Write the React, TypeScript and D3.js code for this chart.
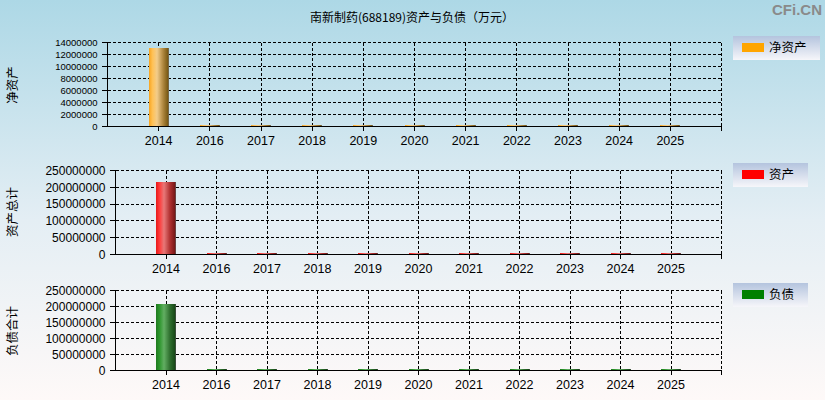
import React from "react";
import * as d3 from "d3";

const years = ["2014", "2016", "2017", "2018", "2019", "2020", "2021", "2022", "2023", "2024", "2025"];
const netAssets = [13100000, 200000, 200000, 200000, 200000, 200000, 200000, 200000, 200000, 200000, 200000];
const totalAssets = [217000000, 3500000, 3500000, 3500000, 3500000, 3500000, 3500000, 3500000, 3500000, 3500000, 3500000];
const liabilities = [207000000, 6000000, 6000000, 6000000, 6000000, 6000000, 6000000, 6000000, 6000000, 6000000, 6000000];
const netTicks = [0, 2000000, 4000000, 6000000, 8000000, 10000000, 12000000, 14000000];
const bigTicks = [0, 50000000, 100000000, 150000000, 200000000, 250000000];

const title = "南新制药(688189)资产与负债（万元）";

type Panel = {
  key: string;
  values: number[];
  ticks: number[];
  max: number;
  left: number;
  right: number;
  top: number;
  bottom: number;
  yFont: number;
  ylabel: string;
  ylabelY: number;
  legend: string;
  legendColor: string;
  legendTop: number;
  legendW: number;
  grad: string[];
};

const panels: Panel[] = [
  {
    key: "p1", values: netAssets, ticks: netTicks, max: 14000000,
    left: 107.5, right: 721.5, top: 42.5, bottom: 126.5, yFont: 9.5,
    ylabel: "净资产", ylabelY: 85, legend: "净资产", legendColor: "#FFA500",
    legendTop: 36, legendW: 87,
    grad: ["#F7A420", "#FFC257", "#F2CC8A", "#B08840", "#7A5A14", "#707070"],
  },
  {
    key: "p2", values: totalAssets, ticks: bigTicks, max: 250000000,
    left: 115.5, right: 721.5, top: 170.5, bottom: 254.5, yFont: 12,
    ylabel: "资产总计", ylabelY: 212, legend: "资产", legendColor: "#FF0000",
    legendTop: 163, legendW: 75,
    grad: ["#E81818", "#FF3C3C", "#E87878", "#B03030", "#781818", "#606060"],
  },
  {
    key: "p3", values: liabilities, ticks: bigTicks, max: 250000000,
    left: 115.5, right: 721.5, top: 290.5, bottom: 370.5, yFont: 12,
    ylabel: "负债合计", ylabelY: 331, legend: "负债", legendColor: "#008000",
    legendTop: 283, legendW: 75,
    grad: ["#1E7A1E", "#2E962E", "#62AE62", "#2E6E2E", "#184A18", "#505050"],
  },
];

const FONT = "'Liberation Sans', Arial, 'Noto Sans CJK SC', sans-serif";
const CJK = "'Noto Sans CJK SC', 'Liberation Sans', sans-serif";

const snap = (v: number) => Math.round(v - 0.5) + 0.5;

function PanelView({ p }: { p: Panel }) {
  const x = d3.scalePoint<string>().domain(years).range([p.left, p.right]).padding(1);
  const y = d3.scaleLinear().domain([0, p.max]).range([p.bottom, p.top]);
  const barW = 20;
  const gid = `grad-${p.key}`;
  const lgid = `lgrad-${p.key}`;
  const dash = "3,2";
  const xs = (yr: string) => snap(x(yr) as number);
  return (
    <g shapeRendering="crispEdges">
      <defs>
        <linearGradient id={gid} x1="0" x2="1" y1="0" y2="0">
          <stop offset="0%" stopColor={p.grad[0]} />
          <stop offset="18%" stopColor={p.grad[1]} />
          <stop offset="40%" stopColor={p.grad[2]} />
          <stop offset="70%" stopColor={p.grad[3]} />
          <stop offset="94%" stopColor={p.grad[4]} />
          <stop offset="100%" stopColor={p.grad[5]} />
        </linearGradient>
        <linearGradient id={lgid} x1="0" x2="0" y1="0" y2="1">
          <stop offset="0%" stopColor="#B4C4DE" />
          <stop offset="100%" stopColor="#F6F6FA" />
        </linearGradient>
      </defs>
      {p.ticks.filter((t) => t > 0).map((t) => (
        <line key={`h${t}`} x1={p.left} x2={p.right} y1={snap(y(t))} y2={snap(y(t))} stroke="#000" strokeDasharray={dash} />
      ))}
      {years.map((yr) => (
        <line key={`v${yr}`} x1={xs(yr)} x2={xs(yr)} y1={p.top} y2={p.bottom} stroke="#000" strokeDasharray={dash} />
      ))}
      <line x1={p.right} x2={p.right} y1={p.top} y2={p.bottom} stroke="#000" strokeDasharray={dash} />
      {p.values.map((v, i) => {
        const h = Math.max(2, p.bottom - y(v));
        return (
          <rect
            key={`b${i}`}
            x={Math.round((x(years[i]) as number) - barW / 2)}
            y={p.bottom - h}
            width={barW}
            height={h}
            fill={`url(#${gid})`}
          />
        );
      })}
      <line x1={p.left} x2={p.left} y1={p.top} y2={p.bottom} stroke="#000" />
      <line x1={p.left} x2={p.right} y1={p.bottom} y2={p.bottom} stroke="#000" />
      {p.ticks.map((t) => (
        <g key={`yt${t}`}>
          <line x1={p.left - 6} x2={p.left} y1={snap(y(t))} y2={snap(y(t))} stroke="#000" />
          <text x={p.left - 10} y={y(t)} dy="0.35em" textAnchor="end" fontSize={p.yFont} fontFamily={FONT} fill="#000">
            {t}
          </text>
        </g>
      ))}
      {years.map((yr) => (
        <g key={`xt${yr}`}>
          <line x1={xs(yr)} x2={xs(yr)} y1={p.bottom} y2={p.bottom + 4} stroke="#000" />
          <text x={x(yr)} y={p.bottom + 18} textAnchor="middle" fontSize={12.5} fontFamily={FONT} fill="#000">
            {yr}
          </text>
        </g>
      ))}
      <line x1={p.right} x2={p.right} y1={p.bottom} y2={p.bottom + 4} stroke="#000" />
      <text
        transform={`translate(17,${p.ylabelY}) rotate(-90)`}
        textAnchor="middle"
        fontSize={12.5}
        fontFamily={CJK}
        fill="#000"
      >
        {p.ylabel}
      </text>
      <rect x={733} y={p.legendTop} width={p.legendW} height={24} fill={`url(#${lgid})`} />
      <rect x={742} y={p.legendTop + 7} width={22} height={9} fill={p.legendColor} />
      <text x={769} y={p.legendTop + 12} dy="0.35em" fontSize={12.5} fontFamily={CJK} fill="#000">
        {p.legend}
      </text>
    </g>
  );
}

export default function App() {
  return (
    <svg width={825} height={400} style={{ position: "absolute", left: 0, top: 0 }}>
      <defs>
        <linearGradient id="bg" x1="0" x2="0" y1="0" y2="1">
          <stop offset="0%" stopColor="#ADD8E6" />
          <stop offset="55%" stopColor="#E4EEF4" />
          <stop offset="100%" stopColor="#FEF9F8" />
        </linearGradient>
      </defs>
      <rect x={0} y={0} width={825} height={400} fill="url(#bg)" />
      <text x={412} y={22} textAnchor="middle" fontSize={12} fontFamily={CJK} fill="#000">
        {title}
      </text>
      <text x={822} y={15} textAnchor="end" fontSize={15} fontWeight="bold" fontFamily={FONT} fill="#8A8A8A">
        CFi.CN
      </text>
      {panels.map((p) => (
        <PanelView key={p.key} p={p} />
      ))}
    </svg>
  );
}
